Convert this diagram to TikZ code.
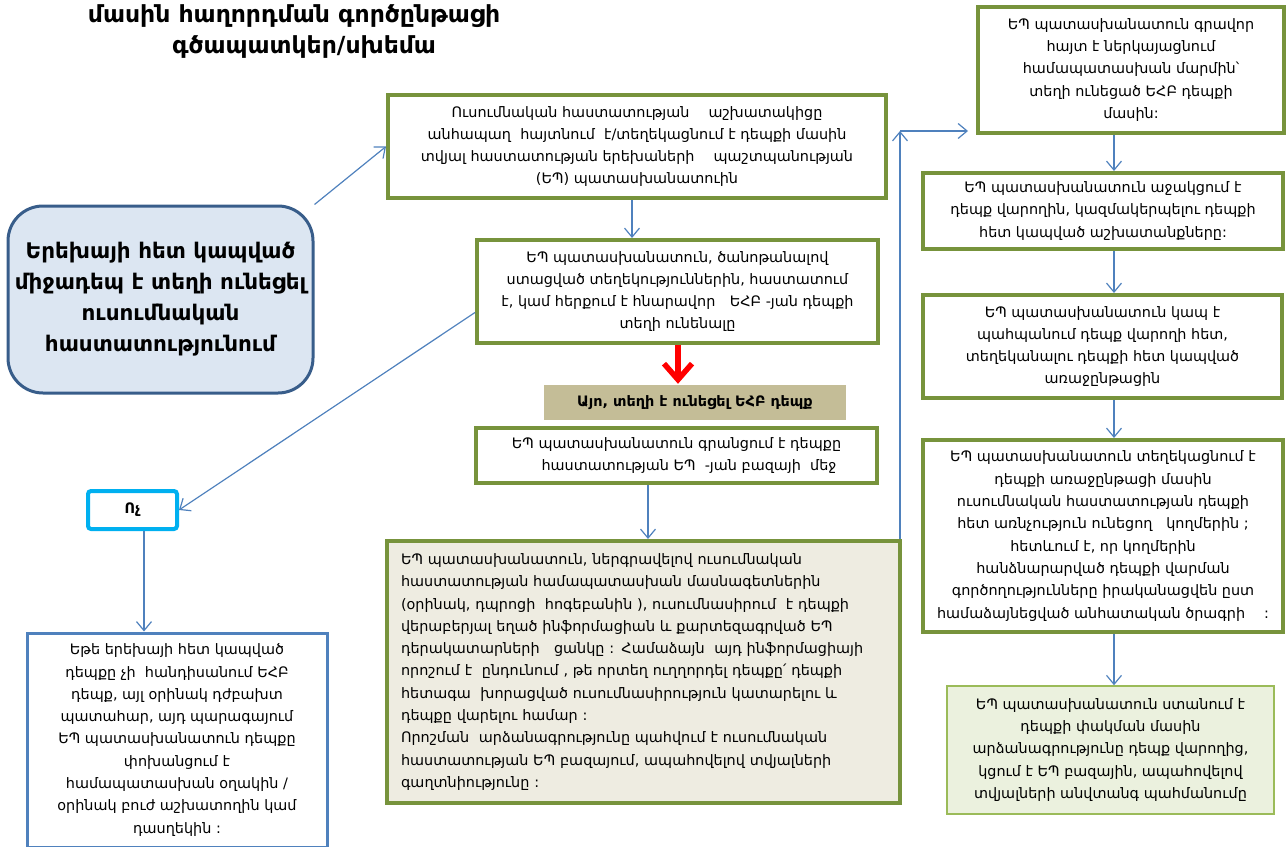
\documentclass[tikz,border=0pt]{standalone}
\usepackage{fontspec}
\setmainfont{DejaVu Sans}
\usetikzlibrary{arrows.meta}
\definecolor{gborder}{HTML}{77933C}
\definecolor{arrowc}{HTML}{4F81BD}
\definecolor{lbfill}{HTML}{DCE6F2}
\definecolor{lbborder}{HTML}{385D8A}
\definecolor{tanfill}{HTML}{C4BD97}
\definecolor{bigfill}{HTML}{EEECE1}
\definecolor{r5fill}{HTML}{EBF1DE}
\definecolor{r5border}{HTML}{9BBB59}
\definecolor{cyanb}{HTML}{00B0F0}
\tikzset{
  body/.style={font=\fontsize{14.4}{22.3}\selectfont},
  gbox/.style={draw=gborder, line width=4pt, fill=white, align=center, inner sep=0pt, body},
  arr/.style={draw=arrowc, line width=1.2pt, -{Straight Barb[length=9pt,width=15pt]}},
}
\begin{document}
\begin{tikzpicture}[x=1pt,y=-1pt]
\useasboundingbox (0,0) rectangle (1287,846);
% title
\node[anchor=base, font=\fontsize{23.5}{28}\selectfont\bfseries] (t1) at (294,22) {մասին հաղորդման գործընթացի};
\node[anchor=base, font=\fontsize{23.5}{28}\selectfont\bfseries] (t2) at (304,53) {գծապատկեր/սխեմա};
% left rounded box
\node[draw=lbborder, line width=3pt, fill=lbfill, rounded corners=35pt, minimum width=305pt, minimum height=187pt, align=center, inner sep=0pt, font=\fontsize{21.5}{31}\selectfont\bfseries] (lb) at (160.5,299.5) {Երեխայի հետ կապված\\միջադեպ է տեղի ունեցել\\ուսումնական\\հաստատությունում};
% center column
\node[gbox, minimum width=498pt, minimum height=103pt] (b1) at (637,146.5) {Ուսումնական հաստատության\quad\ աշխատակիցը\\անհապաղ\ \ հայտնում\ \ է/տեղեկացնում է դեպքի մասին\\տվյալ հաստատության երեխաների\quad\ պաշտպանության\\(ԵՊ) պատասխանատուին};
\node[gbox, minimum width=401pt, minimum height=103pt] (b2) at (677.5,291.5) {ԵՊ պատասխանատուն, ծանոթանալով\\ստացված տեղեկություններին, հաստատում\\է, կամ հերքում է հնարավոր\quad ԵՀԲ -յան դեպքի\\տեղի ունենալը};
\node[fill=tanfill, minimum width=302pt, minimum height=35pt, inner sep=0pt, font=\fontsize{14.4}{16}\selectfont\bfseries] (lab) at (695,402.5) {Այո, տեղի է ունեցել ԵՀԲ դեպք};
\node[gbox, minimum width=401pt, minimum height=55pt] (b3) at (676.5,455.5) {ԵՊ պատասխանատուն գրանցում է դեպքը\\\hspace*{25pt}հաստատության ԵՊ\ \ -յան բազայի\ \ մեջ};
\node[gbox, fill=bigfill, minimum width=513pt, minimum height=262pt, align=left, text width=485pt] (b4) at (643.5,672) {ԵՊ պատասխանատուն, ներգրավելով ուսումնական\\հաստատության համապատասխան մասնագետներին\\(օրինակ, դպրոցի\ \ հոգեբանին\ ), ուսումնասիրում\ \ է դեպքի\\վերաբերյալ եղած ինֆորմացիան և քարտեզագրված ԵՊ\\դերակատարների\ \ \ ցանկը\ : Համաձայն\ \ այդ ինֆորմացիայի\\որոշում է\ \ ընդունում , թե\ որտեղ ուղղորդել դեպքը՛ դեպքի\\հետագա\ \ խորացված ուսումնասիրություն կատարելու և\\դեպքը վարելու համար :\\Որոշման\ \ արձանագրությունը պահվում է ուսումնական\\հաստատության ԵՊ բազայում, ապահովելով տվյալների\\գաղտնիությունը\ :};
% left bottom
\node[draw=cyanb, line width=4pt, fill=white, rounded corners=3pt, minimum width=89pt, minimum height=38pt, inner sep=0pt, font=\fontsize{14.4}{16}\selectfont\bfseries] (no) at (132.5,510) {Ոչ};
\node[draw=arrowc, line width=3pt, fill=white, minimum width=300pt, minimum height=214pt, align=center, inner sep=0pt, body] (bl) at (177,740) {Եթե երեխայի հետ կապված\\դեպքը չի\ \ հանդիսանում ԵՀԲ\\դեպք, այլ օրինակ դժբախտ\\պատահար, այդ պարագայում\\ԵՊ պատասխանատուն դեպքը\\փոխանցում է\\համապատասխան օղակին /\\օրինակ բուժ աշխատողին կամ\\դասղեկին :};
% right column
\node[gbox, minimum width=306pt, minimum height=126pt] (r1) at (1131,70) {ԵՊ պատասխանատուն գրավոր\\հայտ է ներկայացնում\\համապատասխան մարմին՝\\տեղի ունեցած ԵՀԲ դեպքի\\մասին:};
\node[gbox, minimum width=360pt, minimum height=76pt] (r2) at (1103,211) {ԵՊ պատասխանատուն աջակցում է\\դեպք վարողին, կազմակերպելու դեպքի\\հետ կապված աշխատանքները:};
\node[gbox, minimum width=359pt, minimum height=103pt] (r3) at (1102.5,346.5) {ԵՊ պատասխանատուն կապ է\\պահպանում դեպք վարողի հետ,\\տեղեկանալու դեպքի հետ կապված\\առաջընթացին};
\node[gbox, minimum width=360pt, minimum height=192pt] (r4) at (1103,536) {ԵՊ պատասխանատուն տեղեկացնում է\\դեպքի առաջընթացի մասին\\ուսումնական հաստատության դեպքի\\հետ առնչություն ունեցող\ \ \ կողմերին ;\\հետևում է, որ կողմերին\\հանձնարարված դեպքի վարման\\գործողությունները իրականացվեն ըստ\\համաձայնեցված անհատական ծրագրի\quad\ :};
\node[draw=r5border, line width=1.5pt, fill=r5fill, minimum width=327pt, minimum height=128pt, align=center, inner sep=0pt, body] (r5) at (1110.5,750) {ԵՊ պատասխանատուն ստանում է\\դեպքի փակման մասին\\արձանագրությունը դեպք վարողից,\\կցում է ԵՊ բազային, ապահովելով\\տվյալների անվտանգ պահմանումը};
% helper coordinates
\coordinate (cx) at (1114,0);
\coordinate (ax1) at (632,0);
\coordinate (ax3) at (648,0);
\coordinate (axr) at (678,0);
\coordinate (vx) at (900,0);
\coordinate (corner) at (900,131);
\coordinate (tip) at (968,131);
\coordinate (bx) at (144,0);
% connectors
\draw[arr] (lb.north east) -- (b1.west);
\draw[arr] (b1.south -| ax1) -- (b2.north -| ax1);
\draw[draw=red, line width=5.5pt, -{Straight Barb[length=16pt,width=28pt]}] (b2.south -| axr) -- ([yshift=1pt]lab.north -| axr);
\draw[arr] (b3.south -| ax3) -- (b4.north -| ax3);
\draw[arr] (b4.north -| vx) -- (corner);
\draw[arr] (corner) -- (tip);
\draw[arr] ([yshift=-21pt]b2.west) -- (no.east);
\draw[arr] (no.south -| bx) -- (bl.north -| bx);
\draw[arr] (r1.south -| cx) -- (r2.north -| cx);
\draw[arr] (r2.south -| cx) -- (r3.north -| cx);
\draw[arr] (r3.south -| cx) -- (r4.north -| cx);
\draw[arr] (r4.south -| cx) -- (r5.north -| cx);
\end{tikzpicture}
\end{document}
